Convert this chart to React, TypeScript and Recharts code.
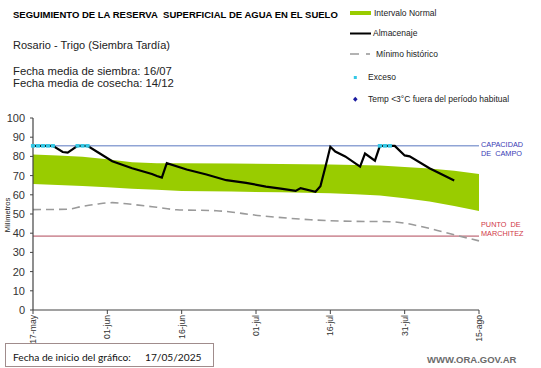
import React from "react";
import { ComposedChart, Area, Line, XAxis, YAxis, ReferenceLine } from "recharts";

const FONT = "'Liberation Sans', Arial, sans-serif";

// X axis: day index from 17-may
const tickDays = [0, 15, 30, 45, 60, 75, 90];
const tickLabels = ["17-may", "01-jun", "16-jun", "01-jul", "16-jul", "31-jul", "15-ago"];
const yTicks = [0, 10, 20, 30, 40, 50, 60, 70, 80, 90, 100];

// Intervalo normal (band)
const bandDays = [0, 5, 10, 15, 20, 25, 30, 40, 50, 60, 65, 70, 75, 80, 85, 90];
const bandTop = [81, 80.5, 79.8, 78.5, 77, 76.4, 76.4, 76.3, 76.1, 75.8, 75.5, 75.2, 74.5, 73.7, 72.5, 70.8];
const bandBottom = [65.6, 65.1, 64.6, 63.9, 63.2, 62.6, 62, 61.7, 61.3, 60.8, 60.3, 59.6, 58.2, 56.5, 54.2, 51.6];

// Almacenaje
const storageDays = [0, 4, 6, 7, 9, 11, 13, 16, 20, 24, 25, 26, 27, 31, 35, 39, 43, 47, 50, 53, 54, 57, 58, 59, 60, 61, 63, 66, 67, 69, 70, 73, 75, 76, 80, 85];
const storageValues = [85.5, 85.5, 82.3, 82, 85.5, 85.5, 82.3, 77.5, 73.8, 70.8, 69.8, 69, 76.5, 73.2, 70.6, 67.6, 66.2, 64.3, 63.2, 62, 63.5, 61.6, 64.5, 74.5, 85, 82.5, 80, 74.7, 81.5, 77.8, 85.5, 85.5, 80.5, 80, 73.8, 67.4];

// Mínimo histórico
const minDays = [0, 7, 10, 13, 16, 20, 25, 29, 37, 46, 56, 64, 72, 80, 85, 90];
const minValues = [52.3, 52.5, 54, 55.2, 55.9, 55, 53.5, 52.2, 51.7, 49.1, 47, 46.2, 46, 42.5, 39.2, 36];

// Exceso
const excessDays = [0, 1, 2, 3, 4, 9, 10, 11, 70, 71, 72];

const fieldCapacity = 85.5;
const wiltingPoint = 38.5;

const bandData = bandDays.map((d, i) => ({ day: d, range: [bandBottom[i], bandTop[i]] }));
const storageData = storageDays.map((d, i) => ({ day: d, value: storageValues[i] }));
const minData = minDays.map((d, i) => ({ day: d, value: minValues[i] }));
const excessData = excessDays.map((d) => ({ day: d, value: fieldCapacity }));

const XTick = (props: any) => {
  const { x, y, payload } = props;
  const i = tickDays.indexOf(payload.value);
  return (
    <text
      x={x}
      y={y}
      transform={`rotate(-90 ${x} ${y})`}
      textAnchor="end"
      dy="0.35em"
      fontSize={8.6}
      fill="#333"
      fontFamily={FONT}
    >
      {tickLabels[i]}
    </text>
  );
};

const ExcessDot = (props: any) => {
  const { cx, cy, index } = props;
  if (cx == null || cy == null) return <g key={index} />;
  return <rect key={index} x={cx - 2.1} y={cy - 1.8} width={4.2} height={3.6} fill="#33c8e6" />;
};

const capLabel = (props: any) => {
  const vb = props.viewBox || {};
  const x = vb.x + vb.width + 2;
  const y = vb.y;
  return (
    <text x={x} fontSize={7.3} fill="#3a3ab4" fontFamily={FONT}>
      <tspan x={x} y={y - 1.7} dy="0.35em">CAPACIDAD</tspan>
      <tspan x={x} y={y + 8} dy="0.35em">DE&#160;&#160;CAMPO</tspan>
    </text>
  );
};

const wiltLabel = (props: any) => {
  const vb = props.viewBox || {};
  const x = vb.x + vb.width + 2;
  const y = vb.y;
  return (
    <text x={x} fontSize={7.3} fill="#d03848" fontFamily={FONT}>
      <tspan x={x} y={y - 11.7} dy="0.35em">PUNTO&#160;&#160;DE</tspan>
      <tspan x={x} y={y - 2.7} dy="0.35em">MARCHITEZ</tspan>
    </text>
  );
};

export default function App() {
  return (
    <div style={{ position: "absolute", left: 0, top: 0, width: 541, height: 368, background: "#fff" }}>
      <ComposedChart
        width={541}
        height={368}
        margin={{ top: 118, right: 62, bottom: 18, left: 5 }}
      >
        <XAxis
          type="number"
          dataKey="day"
          domain={[0, 90]}
          ticks={tickDays}
          interval={0}
          allowDuplicatedCategory={false}
          height={40}
          tick={<XTick />}
          tickSize={4}
          tickMargin={1}
          axisLine={{ stroke: "#444", strokeWidth: 1.2 }}
          tickLine={{ stroke: "#444" }}
        />
        <YAxis
          type="number"
          domain={[0, 100]}
          ticks={yTicks}
          interval={0}
          width={28}
          tickSize={3}
          tickMargin={5}
          tick={{ fontSize: 11, fill: "#333", fontFamily: FONT }}
          axisLine={{ stroke: "#444", strokeWidth: 1.2 }}
          tickLine={{ stroke: "#444" }}
        />
        <Area
          data={bandData}
          dataKey="range"
          type="linear"
          fill="#99cc00"
          fillOpacity={1}
          stroke="none"
          isAnimationActive={false}
        />
        <ReferenceLine y={fieldCapacity} stroke="#5a78c0" strokeWidth={1} label={capLabel} />
        <ReferenceLine y={wiltingPoint} stroke="#b04858" strokeWidth={1} label={wiltLabel} />
        <Line
          data={minData}
          dataKey="value"
          type="monotone"
          stroke="#9a9a9a"
          strokeWidth={1.6}
          strokeDasharray="8 5"
          dot={false}
          isAnimationActive={false}
        />
        <Line
          data={storageData}
          dataKey="value"
          type="linear"
          stroke="#000"
          strokeWidth={2.2}
          dot={false}
          isAnimationActive={false}
        />
        <Line
          data={excessData}
          dataKey="value"
          stroke="none"
          dot={ExcessDot}
          isAnimationActive={false}
        />
      </ComposedChart>
      <svg
        width={541}
        height={368}
        style={{ position: "absolute", left: 0, top: 0, pointerEvents: "none" }}
        fontFamily={FONT}
      >
        <text x={13} y={14.3} dy="0.35em" fontSize={9.5} fontWeight="bold" fill="#000">
          SEGUIMIENTO DE LA RESERVA&#160; SUPERFICIAL DE AGUA EN EL SUELO
        </text>
        <text x={13} y={45.5} dy="0.35em" fontSize={11} fill="#222">
          Rosario - Trigo (Siembra Tardía)
        </text>
        <text x={13} y={71.5} dy="0.35em" fontSize={11.3} fill="#222">
          Fecha media de siembra: 16/07
        </text>
        <text x={13} y={83} dy="0.35em" fontSize={11.3} fill="#222">
          Fecha media de cosecha: 14/12
        </text>

        {/* legend */}
        <rect x={350} y={11} width={21} height={4} fill="#99cc00" />
        <text x={374} y={13} dy="0.35em" fontSize={8.5} fill="#222">Intervalo Normal</text>
        <line x1={350} x2={371} y1={33.5} y2={33.5} stroke="#000" strokeWidth={2} />
        <text x={373} y={33.5} dy="0.35em" fontSize={8.5} fill="#222">Almacenaje</text>
        <line x1={350} x2={359} y1={54} y2={54} stroke="#9a9a9a" strokeWidth={1.5} />
        <line x1={366} x2={370} y1={54} y2={54} stroke="#777" strokeWidth={1.2} />
        <text x={376} y={54} dy="0.35em" fontSize={8.5} fill="#222">Mínimo histórico</text>
        <rect x={353.8} y={76} width={3} height={3} fill="#33c8e6" />
        <text x={368} y={77.3} dy="0.35em" fontSize={8.5} fill="#222">Exceso</text>
        <polygon points="355.3,96.8 357.6,99.3 355.3,101.8 353,99.3" fill="#1a1aa0" />
        <text x={368} y={99.3} dy="0.35em" fontSize={8.5} fill="#222">Temp &lt;3°C fuera del período habitual</text>

        {/* y axis title */}
        <text
          x={7}
          y={215}
          transform="rotate(-90 7 215)"
          textAnchor="middle"
          dy="0.35em"
          fontSize={7.5}
          fill="#222"
        >
          Milímetros
        </text>

        {/* bottom box */}
        <rect x={5.5} y={343.5} width={208} height={23} fill="#fff" stroke="#a08c8c" strokeWidth={1} />
        <text x={13} y={357} dy="0.35em" fontSize={10.2} fill="#111" fontFamily="Lato, 'Open Sans', sans-serif">
          Fecha de inicio del gráfico:
        </text>
        <text x={145} y={357} dy="0.35em" fontSize={10.2} fill="#111" fontFamily="Lato, 'Open Sans', sans-serif">
          17/05/2025
        </text>

        <text x={427} y={360} dy="0.35em" fontSize={9.5} fontWeight="bold" fill="#6b6b6b">
          WWW.ORA.GOV.AR
        </text>
      </svg>
    </div>
  );
}
